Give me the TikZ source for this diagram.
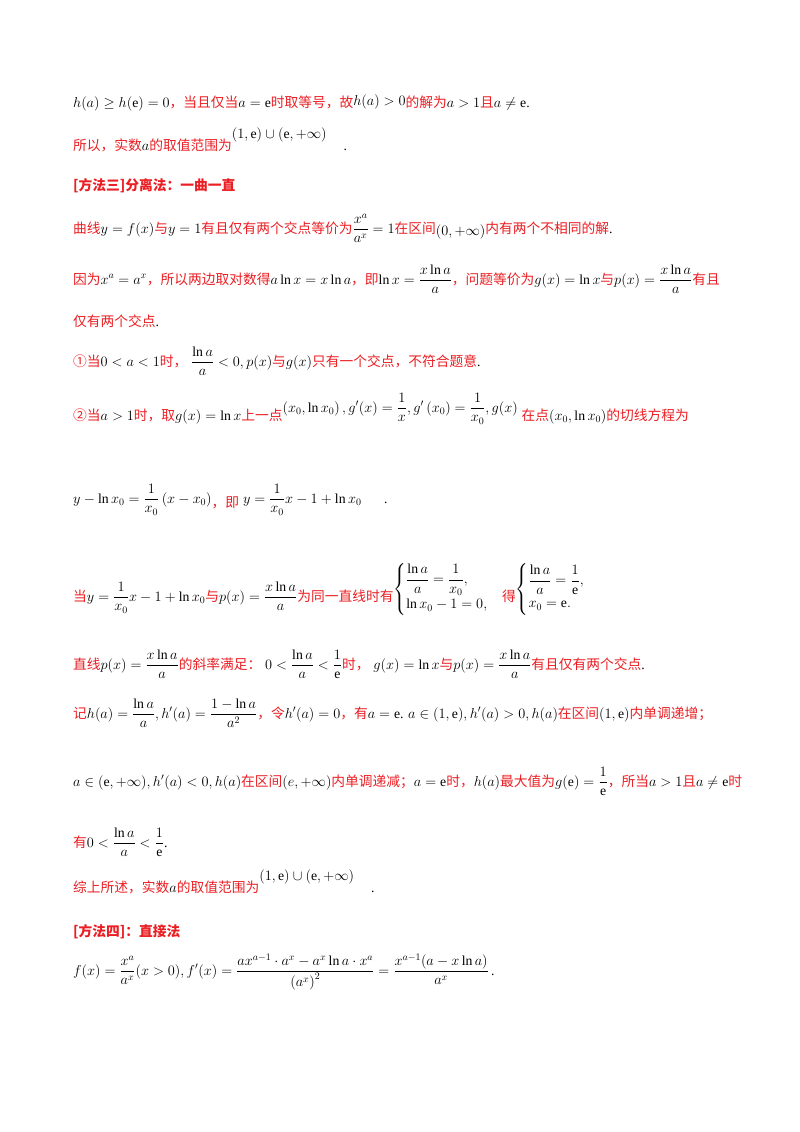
\documentclass[tikz,border=0pt]{standalone}
\usepackage{amsmath}
\usepackage{fontspec}
\setmainfont{Liberation Serif}
\newfontfamily\cjk{Noto Sans CJK SC}
\usetikzlibrary{positioning}
\definecolor{zhred}{RGB}{235,30,35}
\newcommand{\zh}[1]{{\color{zhred}\cjk #1}}
\newcommand{\zhb}[1]{{\color{zhred}\cjk\bfseries #1}}
\newcommand{\up}[2]{\raisebox{#1}{$#2$}}
\tikzset{
  ln/.style={anchor=base west, inner sep=0pt, font=\fontsize{13.8}{16}\selectfont},
}
\begin{document}
\begin{tikzpicture}[x=1bp, y=-1bp]
    \useasboundingbox (0,0) rectangle (800,1132);
    % opening lines
    \node[ln] (hline) at (73,107) {$h(a)\ge h(\mathrm{e})=0$\zh{，当且仅当}$a=\mathrm{e}$\zh{时取等号，故}\up{2pt}{h(a)>0}\zh{的解为}$a>1$\zh{且}$a\ne\mathrm{e}$.};
    \node[ln] (range1) at (73,150) {\zh{所以，实数}$a$\zh{的取值范围为}\up{12pt}{(1,\mathrm{e})\cup(\mathrm{e},+\infty)}\hspace{0.6cm}.};
    \node[ln] (m3) at (73,190) {\zhb{[方法三]分离法：一曲一直}};
    \node[ln] (curve) at (73,233) {\zh{曲线}$y=f(x)$\zh{与}$y=1$\zh{有且仅有两个交点等价为}$\dfrac{x^a}{a^x}=1$\zh{在区间}\raisebox{-3pt}{$(0,+\infty)$}\zh{内有两个不相同的解}.};
    \node[ln] (cause) at (73,284) {\zh{因为}$x^a=a^x$\zh{，所以两边取对数得}$a\ln x=x\ln a$\zh{，即}$\ln x=\dfrac{x\ln a}{a}$\zh{，问题等价为}$g(x)=\ln x$\zh{与}$p(x)=\dfrac{x\ln a}{a}$\zh{有且}};
    \node[ln] (cause2) at (73,326) {\zh{仅有两个交点}.};
    \node[ln] (case1) at (73,366) {\zh{①当}$0<a<1$\zh{时，}\;$\dfrac{\ln a}{a}<0,p(x)$\zh{与}$g(x)$\zh{只有一个交点，不符合题意}.};
    \node[ln] (case2) at (73,420) {\zh{②当}$a>1$\zh{时，取}$g(x)=\ln x$\zh{上一点}\up{8pt}{\left(x_0,\ln x_0\right),g'(x)=\dfrac{1}{x},g'\left(x_0\right)=\dfrac{1}{x_0},g(x)}\;\zh{在点}$\left(x_0,\ln x_0\right)$\zh{的切线方程为}};
    % tangent line
    \node[ln] (tang) at (73,503) {$y-\ln x_0=\dfrac{1}{x_0}\left(x-x_0\right)$\up{-5pt}{\text{\zh{，即}}}\;$y=\dfrac{1}{x_0}x-1+\ln x_0$\hspace{0.8cm}.};
    \node[ln] (same) at (73,601) {\zh{当}$y=\dfrac{1}{x_0}x-1+\ln x_0$\zh{与}$p(x)=\dfrac{x\ln a}{a}$\zh{为同一直线时有}\up{8pt}{\begin{cases}\dfrac{\ln a}{a}=\dfrac{1}{x_0},\\[2pt] \ln x_0-1=0,\end{cases}}\zh{得}\up{8pt}{\begin{cases}\dfrac{\ln a}{a}=\dfrac{1}{\mathrm{e}},\\[2pt] x_0=\mathrm{e}.\end{cases}}};
    \node[ln] (slope) at (73,669) {\zh{直线}$p(x)=\dfrac{x\ln a}{a}$\zh{的斜率满足：}\;$0<\dfrac{\ln a}{a}<\dfrac{1}{\mathrm{e}}$\zh{时，}\;$g(x)=\ln x$\zh{与}$p(x)=\dfrac{x\ln a}{a}$\zh{有且仅有两个交点}.};
    \node[ln] (hdef) at (73,718) {\zh{记}$h(a)=\dfrac{\ln a}{a},h'(a)=\dfrac{1-\ln a}{a^2}$\zh{，令}$h'(a)=0$\zh{，有}$a=\mathrm{e}$. $a\in(1,\mathrm{e}),h'(a)>0,h(a)$\zh{在区间}$(1,\mathrm{e})$\zh{内单调递增；}};
    \node[ln] (hdec) at (73,786) {$a\in(\mathrm{e},+\infty),h'(a)<0,h(a)$\zh{在区间}$(e,+\infty)$\zh{内单调递减；}$a=\mathrm{e}$\zh{时，}$h(a)$\zh{最大值为}$g(\mathrm{e})=\dfrac{1}{\mathrm{e}}$\zh{，所当}$a>1$\zh{且}$a\ne\mathrm{e}$\zh{时}};
    \node[ln] (hsum) at (73,847) {\zh{有}$0<\dfrac{\ln a}{a}<\dfrac{1}{\mathrm{e}}$.};
    \node[ln] (range2) at (73,892) {\zh{综上所述，实数}$a$\zh{的取值范围为}\up{12pt}{(1,\mathrm{e})\cup(\mathrm{e},+\infty)}\hspace{0.6cm}.};
    \node[ln] (m4) at (73,936) {\zhb{[方法四]：直接法}};
    \node[ln] (fdiff) at (73,975) {$f(x)=\dfrac{x^a}{a^x}(x>0),f'(x)=\dfrac{ax^{a-1}\cdot a^x-a^x\ln a\cdot x^a}{\left(a^x\right)^2}=\dfrac{x^{a-1}(a-x\ln a)}{a^x}$\,.};
\end{tikzpicture}
\end{document}
